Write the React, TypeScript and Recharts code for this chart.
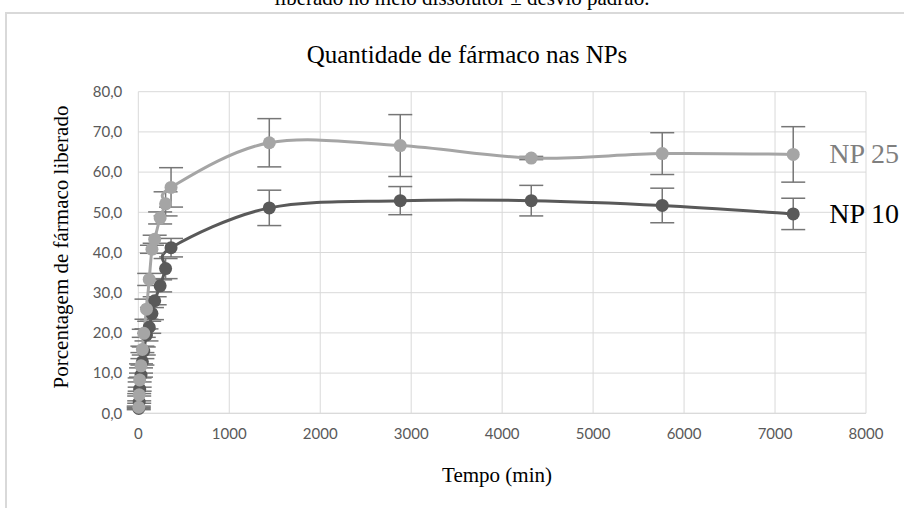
// App.tsx
// Liberação do fármaco nas NPs (NP 25 x NP 10) com barras de erro

import {
  ComposedChart, Line, XAxis, YAxis, CartesianGrid, ErrorBar, LabelList
} from 'recharts'

// Tempos de coleta (min)
const tempos = [5, 10, 15, 30, 45, 60, 90, 120, 150, 180, 240, 300, 360, 1440, 2880, 4320, 5760, 7200]

// Porcentagem liberada e desvio padrão
const np25 = [1.5, 4.6, 8.3, 11.8, 15.9, 19.9, 25.9, 33.3, 40.8, 43.3, 48.6, 52.1, 56.2, 67.3, 66.6, 63.5, 64.6, 64.4]
const np25Dp = [0.3, 0.3, 0.5, 0.5, 0.8, 1.0, 2.5, 1.5, 1.0, 1.0, 1.5, 3.0, 4.9, 6.0, 7.7, 0.4, 5.2, 6.9]
const np10 = [1.2, 2.8, 6.0, 9.5, 12.8, 15.5, 19.5, 21.4, 24.8, 28.0, 31.7, 36.0, 41.2, 51.1, 52.9, 52.9, 51.7, 49.6]
const np10Dp = [0.3, 0.3, 0.5, 0.5, 0.8, 1.0, 1.5, 1.5, 1.5, 1.0, 1.5, 2.5, 2.3, 4.4, 3.5, 3.8, 4.3, 3.9]

const xTicks = [0, 1000, 2000, 3000, 4000, 5000, 6000, 7000, 8000]
const yTicks = [0, 10, 20, 30, 40, 50, 60, 70, 80]

const CINZA_CLARO = '#a5a5a5'
const CINZA_ESCURO = '#595959'
const COR_ERRO = '#767676'
const SERIF = '"Liberation Serif", "Times New Roman", serif'

const data = tempos.map((t, i) => ({
  t,
  np25: np25[i],
  np25Dp: np25Dp[i],
  np10: np10[i],
  np10Dp: np10Dp[i],
}))

const LAST = tempos.length - 1

// Suavização tipo Excel (Catmull-Rom)
function curvaSuave(context: any) {
  let pts: [number, number][] = []
  return {
    areaStart() {},
    areaEnd() {},
    lineStart() { pts = [] },
    lineEnd() {
      if (!pts.length) return
      context.moveTo(pts[0][0], pts[0][1])
      for (let i = 0; i < pts.length - 1; i++) {
        const p0 = pts[Math.max(i - 1, 0)]
        const p1 = pts[i]
        const p2 = pts[i + 1]
        const p3 = pts[Math.min(i + 2, pts.length - 1)]
        context.bezierCurveTo(
          p1[0] + (p2[0] - p0[0]) / 6, p1[1] + (p2[1] - p0[1]) / 6,
          p2[0] - (p3[0] - p1[0]) / 6, p2[1] - (p3[1] - p1[1]) / 6,
          p2[0], p2[1]
        )
      }
    },
    point(x: number, y: number) { pts.push([x, y]) },
  }
}

// Rótulo com nome da série no último ponto
function rotuloSerie(nome: string, cor: string) {
  return (props: any) => {
    if (props.index !== LAST) return null
    return (
      <text x={props.x + 36} y={props.y} dy={9} fill={cor} fontFamily={SERIF} fontSize={28}>
        {nome}
      </text>
    )
  }
}

export default function App() {
  return (
    <div style={{ position: 'absolute', left: 0, top: 0, width: 904, height: 508, overflow: 'hidden', background: '#fff' }}>
      {/* legenda da figura, cortada no topo */}
      <div style={{ position: 'absolute', left: 162, width: 600, top: -12, textAlign: 'center', fontFamily: SERIF, fontSize: 21, lineHeight: '21px', color: '#000' }}>
        liberado no meio dissolutor ± desvio padrão.
      </div>

      {/* moldura do gráfico */}
      <div style={{ position: 'absolute', left: 5, top: 12, width: 940, height: 540, borderLeft: '2px solid #d9d9d9', borderTop: '2px solid #d9d9d9' }} />

      <div style={{ position: 'absolute', left: 167, width: 600, top: 42, textAlign: 'center', fontFamily: SERIF, fontSize: 25, lineHeight: '26px', color: '#000' }}>
        Quantidade de fármaco nas NPs
      </div>

      <div style={{ position: 'absolute', left: 61, top: 247, transform: 'translate(-50%, -50%) rotate(-90deg)', whiteSpace: 'nowrap', fontFamily: SERIF, fontSize: 21, color: '#000' }}>
        Porcentagem de fármaco liberado
      </div>

      <div style={{ position: 'absolute', left: 497, top: 475, transform: 'translate(-50%, -50%)', whiteSpace: 'nowrap', fontFamily: SERIF, fontSize: 21, color: '#000' }}>
        Tempo (min)
      </div>

      <div style={{ position: 'absolute', left: 0, top: 0 }}>
        <ComposedChart width={904} height={508} data={data} margin={{ top: 91.7, right: 38, bottom: 64.7, left: 78.3 }}>
          <CartesianGrid stroke="#d9d9d9" strokeWidth={1} />
          <XAxis
            dataKey="t"
            type="number"
            domain={[0, 8000]}
            ticks={xTicks}
            interval={0}
            height={30}
            axisLine={{ stroke: '#d9d9d9' }}
            tickLine={false}
            tickSize={0}
            tickMargin={15}
            tick={{ fontSize: 15, fill: '#595959', fontFamily: 'Lato, "Open Sans", sans-serif' }}
          />
          <YAxis
            type="number"
            domain={[0, 80]}
            ticks={yTicks}
            interval={0}
            width={60}
            axisLine={false}
            tickLine={false}
            tickSize={0}
            tickMargin={16}
            tickFormatter={(v: number) => v.toFixed(1).replace('.', ',')}
            tick={{ fontSize: 15, fill: '#595959', fontFamily: 'Lato, "Open Sans", sans-serif' }}
          />
          <Line
            dataKey="np10"
            type={curvaSuave as any}
            stroke={CINZA_ESCURO}
            strokeWidth={3}
            dot={{ r: 6.5, fill: CINZA_ESCURO, stroke: CINZA_ESCURO, strokeWidth: 0 }}
            isAnimationActive={false}
          >
            <ErrorBar dataKey="np10Dp" direction="y" width={12} strokeWidth={1.5} stroke={COR_ERRO} />
            <LabelList dataKey="np10" content={rotuloSerie('NP 10', '#000')} />
          </Line>
          <Line
            dataKey="np25"
            type={curvaSuave as any}
            stroke={CINZA_CLARO}
            strokeWidth={3}
            dot={{ r: 6.5, fill: CINZA_CLARO, stroke: CINZA_CLARO, strokeWidth: 0 }}
            isAnimationActive={false}
          >
            <ErrorBar dataKey="np25Dp" direction="y" width={12} strokeWidth={1.5} stroke={COR_ERRO} />
            <LabelList dataKey="np25" content={rotuloSerie('NP 25', '#7f7f7f')} />
          </Line>
        </ComposedChart>
      </div>
    </div>
  )
}
